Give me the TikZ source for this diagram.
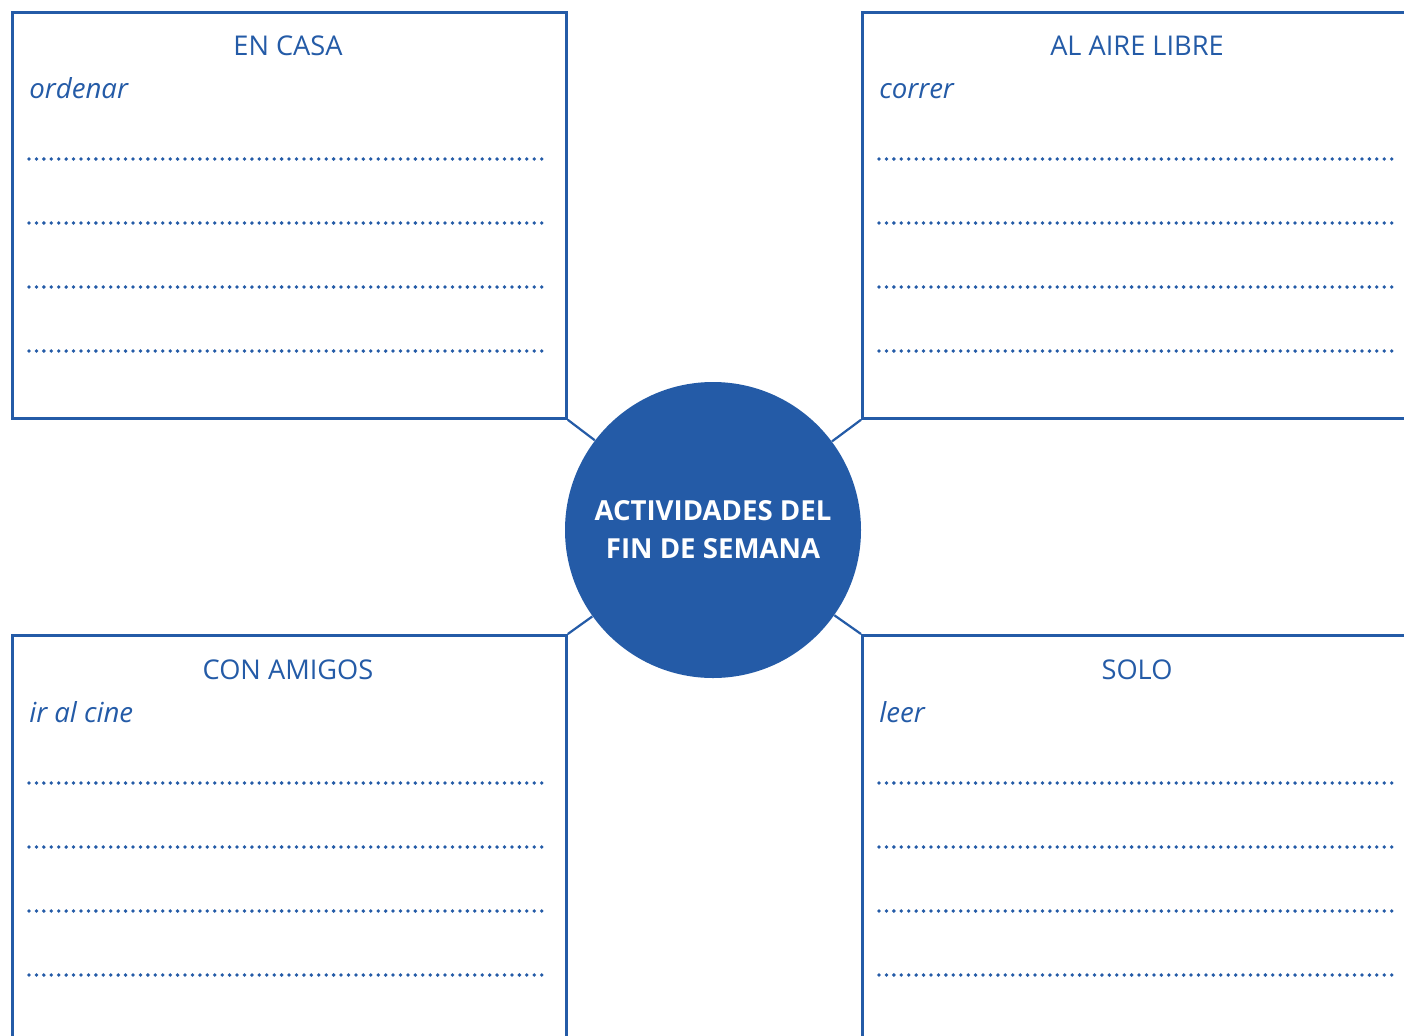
\documentclass[tikz,border=0pt]{standalone}
\usepackage{fontspec}
\setmainfont{Open Sans}
\usetikzlibrary{positioning, calc}
\definecolor{mapBlue}{HTML}{245BA7}
\begin{document}
\begin{tikzpicture}[
    x=0.5pt, y=-0.5pt,
    panel/.style={rectangle, draw=mapBlue, line width=1.4pt, anchor=north west,
                  minimum width=277pt, minimum height=203pt, inner sep=0pt},
    hub/.style={circle, fill=mapBlue, minimum size=148pt, inner sep=0pt, align=center,
                text=white, font=\bfseries\fontsize{13.8}{19}\selectfont},
    heading/.style={font=\fontsize{13.6}{15}\selectfont, text=mapBlue, anchor=base, inner sep=0pt},
    sample/.style={font=\itshape\fontsize{13.8}{15}\selectfont, text=mapBlue, anchor=base west, inner sep=0pt},
    spoke/.style={draw=mapBlue, line width=1.1pt},
    writeline/.style={draw=mapBlue, line width=1.9pt, line cap=round, dash pattern=on 0pt off 3.715pt}
  ]
    \clip (0,0) rectangle (1404,1035);
    \fill[white] (0,0) rectangle (1404,1035);
    % four panels round the hub
    \node[panel] (casa) at (11,11) {};
    \node[panel] (aire) at (861,11) {};
    \node[panel] (amigos) at (11,634) {};
    \node[panel] (solo) at (861,634) {};
    \node[hub] (fin) at (713,530) {ACTIVIDADES DEL\\FIN DE SEMANA};
    \draw[spoke] (casa.south east) -- (fin);
    \draw[spoke] (aire.south west) -- (fin);
    \draw[spoke] (amigos.north east) -- (fin);
    \draw[spoke] (solo.north west) -- (fin);
    % headings and examples
    \node[heading] (tcasa) at (288,55) {EN CASA};
    \node[heading] (taire) at (1137,55) {AL AIRE LIBRE};
    \node[heading] (tamigos) at (288,679) {CON AMIGOS};
    \node[heading] (tsolo) at (1137,679) {SOLO};
    \node[sample] (ecasa) at (29,98) {ordenar};
    \node[sample] (eaire) at (879,98) {correr};
    \node[sample] (eamigos) at (29,722) {ir al cine};
    \node[sample] (esolo) at (879,722) {leer};
    % lines to write on
    \foreach \y in {159,223,287,351,783,847,911,975} {
      \draw[writeline] (29,\y) -- (546,\y);
      \draw[writeline] (879,\y) -- (1396,\y);
    }
  \end{tikzpicture}
\end{document}
